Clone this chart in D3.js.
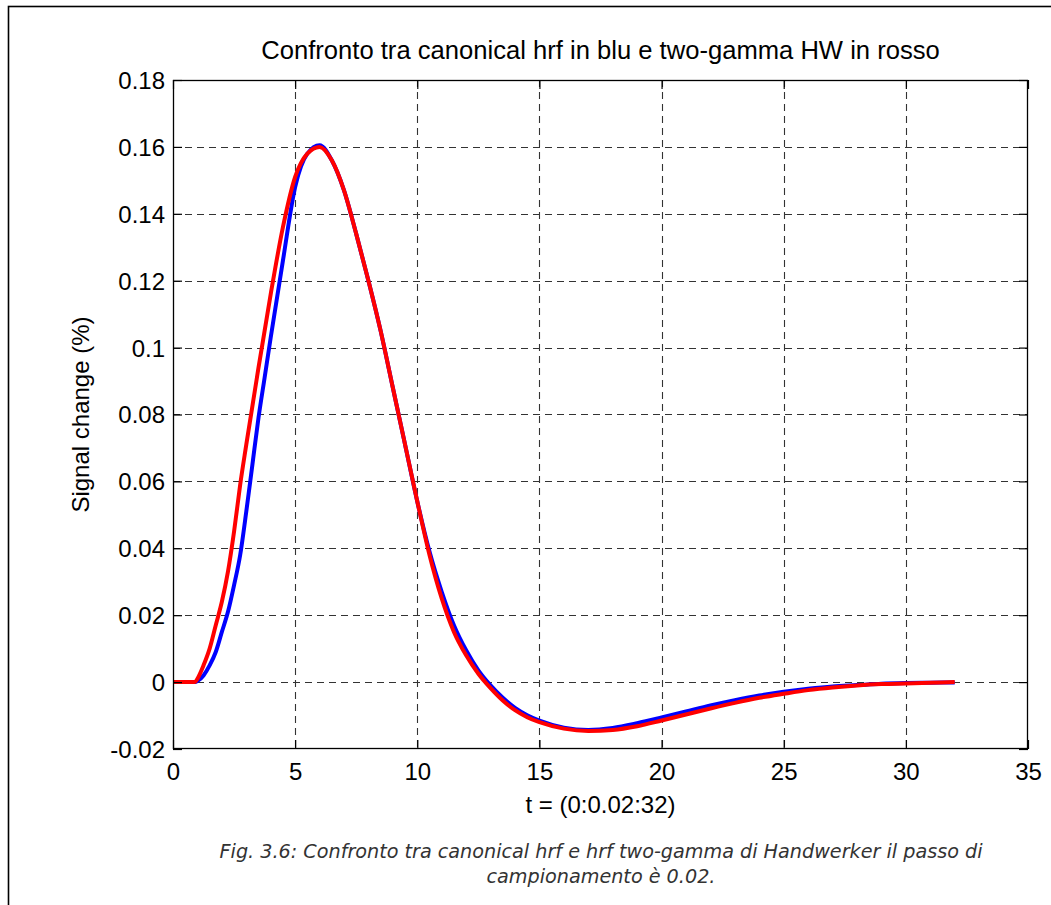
<!DOCTYPE html>
<html><head><meta charset="utf-8">
<script src="https://cdn.jsdelivr.net/npm/d3@7"></script>
<style>html,body{margin:0;padding:0;background:#fff;}svg{display:block;}</style>
</head><body>
<svg id="chart" width="1051" height="905"></svg>
<script>
// ---- data ----
const tBlue = [0, 0.5, 0.9, 1.0, 1.25, 1.5, 1.75, 2.0, 2.25, 2.5, 2.75, 3.0, 3.25, 3.5, 3.75, 4.0, 4.5, 5.0, 5.5, 6.0, 6.5, 7.0, 7.5, 8.0, 8.5, 9.0, 9.5, 10.0, 10.5, 11.0, 11.5, 12.0, 12.5, 13.0, 13.5, 14, 14.5, 15, 16, 17, 18, 19, 20, 21, 22, 23, 24, 25, 26, 27, 28, 29, 30, 31, 32];
const yBlue = [0, 0, 0, 0.0003, 0.002, 0.005, 0.009, 0.015, 0.021, 0.029, 0.038, 0.051, 0.065, 0.079, 0.091, 0.103, 0.126, 0.148, 0.158, 0.1605, 0.156, 0.147, 0.134, 0.120, 0.105, 0.088, 0.071, 0.054, 0.039, 0.027, 0.017, 0.0095, 0.0035, -0.001, -0.0047, -0.0077, -0.0099, -0.0115, -0.0136, -0.0143, -0.0137, -0.0123, -0.0106, -0.0088, -0.0070, -0.0054, -0.0040, -0.0029, -0.0020, -0.0013, -0.0009, -0.0005, -0.0003, -0.0002, -0.0001];
const tRed = [0, 0.5, 0.9, 1.0, 1.25, 1.5, 1.75, 2.0, 2.25, 2.5, 2.75, 3.0, 3.5, 4.0, 4.5, 5.0, 5.5, 6.0, 6.5, 7.0, 7.5, 8.0, 8.5, 9.0, 9.5, 10.0, 10.5, 11.0, 11.5, 12.0, 12.5, 13.0, 13.5, 14, 14.5, 15, 16, 17, 18, 19, 20, 21, 22, 23, 24, 25, 26, 27, 28, 29, 30, 31, 32];
const yRed = [0, 0, 0, 0.001, 0.005, 0.010, 0.017, 0.024, 0.033, 0.045, 0.059, 0.071, 0.094, 0.116, 0.136, 0.151, 0.158, 0.160, 0.156, 0.147, 0.134, 0.120, 0.105, 0.088, 0.071, 0.054, 0.038, 0.025, 0.015, 0.008, 0.0025, -0.0018, -0.0055, -0.0084, -0.0105, -0.0120, -0.0139, -0.0146, -0.0143, -0.0132, -0.0115, -0.0097, -0.0079, -0.0062, -0.0047, -0.0035, -0.0024, -0.0016, -0.0010, -0.0006, -0.0004, -0.0002, 0.0];
const xTicks = [0, 5, 10, 15, 20, 25, 30, 35];
const yTicks = [-0.02, 0, 0.02, 0.04, 0.06, 0.08, 0.1, 0.12, 0.14, 0.16, 0.18];
const yTickLabels = ["-0.02", "0", "0.02", "0.04", "0.06", "0.08", "0.1", "0.12", "0.14", "0.16", "0.18"];
const titleText = "Confronto tra canonical hrf in blu e two-gamma HW in rosso";
const xLabel = "t = (0:0.02:32)";
const yLabel = "Signal change (%)";
const caption1 = "Fig. 3.6: Confronto tra canonical hrf e hrf two-gamma di Handwerker il passo di";
const caption2 = "campionamento è 0.02.";

// ---- layout ----
const L = 173, R = 1028, T = 80, B = 749;
const svg = d3.select("#chart");
const font = "'Liberation Sans', Arial, sans-serif";

// outer frame
svg.append("rect").attr("x", 8.5).attr("y", 6.5).attr("width", 1100).attr("height", 1000)
  .attr("fill", "none").attr("stroke", "#000").attr("stroke-width", 1.6);

const x = d3.scaleLinear().domain([0, 35]).range([L, R]);
const y = d3.scaleLinear().domain([-0.02, 0.18]).range([B, T]);

// grid
const grid = svg.append("g").attr("stroke", "#333").attr("stroke-width", 1.1).attr("stroke-dasharray", "7,5");
grid.selectAll(".gx").data(xTicks.slice(1, -1)).join("line")
  .attr("x1", d => Math.round(x(d)) + 0.5).attr("x2", d => Math.round(x(d)) + 0.5)
  .attr("y1", T).attr("y2", B);
grid.selectAll(".gy").data(yTicks.slice(1, -1)).join("line")
  .attr("y1", d => Math.round(y(d)) + 0.5).attr("y2", d => Math.round(y(d)) + 0.5)
  .attr("x1", L).attr("x2", R);

// curves
const line = d3.line().curve(d3.curveMonotoneX);
const blue = tBlue.map((t, i) => [x(t), y(yBlue[i])]);
const red = tRed.map((t, i) => [x(t), y(yRed[i])]);
svg.append("path").attr("d", line(blue)).attr("fill", "none").attr("stroke", "#0000ff").attr("stroke-width", 4);
svg.append("path").attr("d", line(red)).attr("fill", "none").attr("stroke", "#ff0000").attr("stroke-width", 4);

// axes box
svg.append("rect").attr("x", L + 0.5).attr("y", T + 0.5).attr("width", R - L - 1).attr("height", B - T - 1)
  .attr("fill", "none").attr("stroke", "#000").attr("stroke-width", 1.3);

// axes with inward ticks
const tl = 9;
const xAxisB = d3.axisBottom(x).tickValues(xTicks).tickSize(-tl).tickFormat(d3.format("d"));
const xAxisT = d3.axisTop(x).tickValues(xTicks).tickSize(-tl).tickFormat("");
const yAxisL = d3.axisLeft(y).tickValues(yTicks).tickSize(-tl).tickFormat((d, i) => yTickLabels[i]);
const yAxisR = d3.axisRight(y).tickValues(yTicks).tickSize(-tl).tickFormat("");
function style(g) {
  g.select(".domain").remove();
  g.selectAll(".tick line").attr("stroke", "#000").attr("stroke-width", 1.2);
  g.selectAll(".tick text").attr("fill", "#000").style("font-family", font).style("font-size", "24px");
}
svg.append("g").attr("transform", `translate(0,${B})`).call(xAxisB).call(style)
  .selectAll(".tick text").attr("dy", null).attr("y", 31);
svg.append("g").attr("transform", `translate(0,${T})`).call(xAxisT).call(style);
svg.append("g").attr("transform", `translate(${L},0)`).call(yAxisL).call(style)
  .selectAll(".tick text").attr("x", -8).attr("dy", "0.35em");
svg.append("g").attr("transform", `translate(${R},0)`).call(yAxisR).call(style);

// title and labels
svg.append("text").attr("x", (L + R) / 2).attr("y", 59).attr("text-anchor", "middle")
  .style("font-family", font).style("font-size", "25.6px").text(titleText);
svg.append("text").attr("x", (L + R) / 2).attr("y", 813).attr("text-anchor", "middle")
  .style("font-family", font).style("font-size", "24px").text(xLabel);
svg.append("text").attr("transform", `translate(89,${(T + B) / 2}) rotate(-90)`).attr("text-anchor", "middle")
  .style("font-family", font).style("font-size", "24px").text(yLabel);

// caption
const capFont = "'DejaVu Sans', Verdana, sans-serif";
svg.append("text").attr("x", 601).attr("y", 858).attr("text-anchor", "middle")
  .style("font-family", capFont).style("font-style", "italic").style("font-size", "19.2px").attr("fill", "#333")
  .text(caption1);
svg.append("text").attr("x", 601).attr("y", 883).attr("text-anchor", "middle")
  .style("font-family", capFont).style("font-style", "italic").style("font-size", "19.2px").attr("fill", "#333")
  .text(caption2);
</script>
</body></html>
